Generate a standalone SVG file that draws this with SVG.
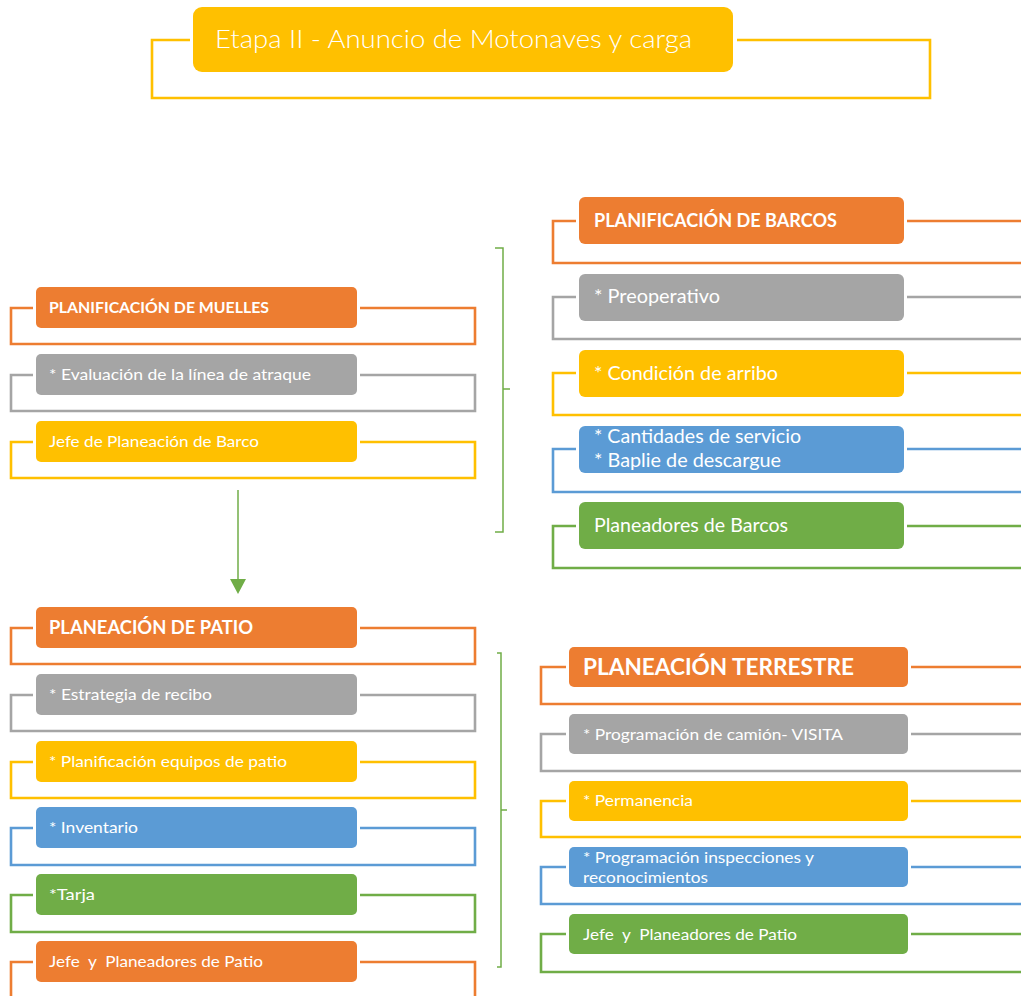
<svg xmlns="http://www.w3.org/2000/svg" width="1021" height="996" viewBox="0 0 1021 996">
<style>
.br{fill:none;stroke-width:2.6}
.o{stroke:#ED7D31}.g{stroke:#A5A5A5}.y{stroke:#FFC000}.b{stroke:#5B9BD5}.gr{stroke:#70AD47}
.fo{fill:#ED7D31}.fg{fill:#A5A5A5}.fy{fill:#FFC000}.fb{fill:#5B9BD5}.fgr{fill:#70AD47}
text{font-family:Lato,"Liberation Sans",sans-serif;fill:#fff;white-space:pre}
.h{font-weight:bold}
.s1{font-size:16px}.s2{font-size:19px}.s3{font-size:15.5px}
.brace{fill:none;stroke:#70AD47;stroke-width:1.5}
</style>
<rect width="1021" height="996" fill="#fff"/>

<g id="title">
<path class="br y" stroke-width="3" d="M190 40H152V98H930V40H737"/>
<rect x="193" y="7" width="540" height="65" rx="9" class="fy"/>
<text x="215" y="48" font-size="25" font-weight="300" textLength="477" lengthAdjust="spacingAndGlyphs">Etapa II - Anuncio de Motonaves y carga</text>
</g>

<!-- Left top block -->
<g id="muelles">
<path class="br o" d="M33 308H11V344H475V308H360"/>
<rect x="36" y="287" width="321" height="41" rx="5" class="fo"/>
<text x="49" y="313" class="h s1" textLength="220" lengthAdjust="spacingAndGlyphs">PLANIFICACIÓN DE MUELLES</text>
</g>
<g id="evaluacion">
<path class="br g" d="M33 375H11V411H475V375H360"/>
<rect x="36" y="354" width="321" height="41" rx="5" class="fg"/>
<text x="49" y="380" class="s1" textLength="262" lengthAdjust="spacingAndGlyphs">* Evaluación de la línea de atraque</text>
</g>
<g id="jefe-barco">
<path class="br y" d="M33 442H11V478H475V442H360"/>
<rect x="36" y="421" width="321" height="41" rx="5" class="fy"/>
<text x="49" y="447" class="s1" textLength="210" lengthAdjust="spacingAndGlyphs">Jefe de Planeación de Barco</text>
</g>

<!-- Right top block -->
<g id="barcos">
<path class="br o" d="M576 221H553V263H1025M1025 221H907"/>
<rect x="579" y="197" width="325" height="47" rx="6" class="fo"/>
<text x="594" y="227" class="h" font-size="18" textLength="243" lengthAdjust="spacingAndGlyphs">PLANIFICACIÓN DE BARCOS</text>
</g>
<g id="preoperativo">
<path class="br g" d="M576 297H553V339H1025M1025 297H907"/>
<rect x="579" y="274" width="325" height="47" rx="6" class="fg"/>
<text x="594" y="303" class="s2" textLength="126" lengthAdjust="spacingAndGlyphs">* Preoperativo</text>
</g>
<g id="arribo">
<path class="br y" d="M576 373H553V415H1025M1025 373H907"/>
<rect x="579" y="350" width="325" height="47" rx="6" class="fy"/>
<text x="594" y="380" class="s2" textLength="184" lengthAdjust="spacingAndGlyphs">* Condición de arribo</text>
</g>
<g id="cantidades">
<path class="br b" d="M576 449H553V492H1025M1025 449H907"/>
<rect x="579" y="426" width="325" height="47" rx="6" class="fb"/>
<text x="594" y="443" class="s2" textLength="207" lengthAdjust="spacingAndGlyphs">* Cantidades de servicio</text>
<text x="594" y="467" class="s2" textLength="187" lengthAdjust="spacingAndGlyphs">* Baplie de descargue</text>
</g>
<g id="planeadores-barcos">
<path class="br gr" d="M576 526H553V568H1025M1025 526H907"/>
<rect x="579" y="502" width="325" height="47" rx="6" class="fgr"/>
<text x="594" y="532" class="s2" textLength="194" lengthAdjust="spacingAndGlyphs">Planeadores de Barcos</text>
</g>

<!-- Bottom left block -->
<g id="patio">
<path class="br o" d="M33 628H11V664H475V628H360"/>
<rect x="36" y="607" width="321" height="41" rx="5" class="fo"/>
<text x="49" y="634" class="h" font-size="18" textLength="204" lengthAdjust="spacingAndGlyphs">PLANEACIÓN DE PATIO</text>
</g>
<g id="estrategia">
<path class="br g" d="M33 695H11V731H475V695H360"/>
<rect x="36" y="674" width="321" height="41" rx="5" class="fg"/>
<text x="49" y="700" class="s1" textLength="163" lengthAdjust="spacingAndGlyphs">* Estrategia de recibo</text>
</g>
<g id="equipos">
<path class="br y" d="M33 762H11V798H475V762H360"/>
<rect x="36" y="741" width="321" height="41" rx="5" class="fy"/>
<text x="49" y="767" class="s1" textLength="238" lengthAdjust="spacingAndGlyphs">* Planificación equipos de patio</text>
</g>
<g id="inventario">
<path class="br b" d="M33 828H11V865H475V828H360"/>
<rect x="36" y="807" width="321" height="41" rx="5" class="fb"/>
<text x="49" y="833" class="s1" textLength="89" lengthAdjust="spacingAndGlyphs">* Inventario</text>
</g>
<g id="tarja">
<path class="br gr" d="M33 895H11V932H475V895H360"/>
<rect x="36" y="874" width="321" height="41" rx="5" class="fgr"/>
<text x="49" y="900" class="s1" textLength="46" lengthAdjust="spacingAndGlyphs">*Tarja</text>
</g>
<g id="jefe-patio">
<path class="br o" d="M33 962H11V1000M475 1000V962H360"/>
<rect x="36" y="941" width="321" height="41" rx="5" class="fo"/>
<text x="49" y="967" class="s1" textLength="214" lengthAdjust="spacingAndGlyphs">Jefe  y  Planeadores de Patio</text>
</g>

<!-- Bottom right block -->
<g id="terrestre">
<path class="br o" d="M566 667H541V704H1025M1025 667H911"/>
<rect x="569" y="647" width="339" height="40" rx="5" class="fo"/>
<text x="583" y="675" class="h" font-size="23" textLength="271" lengthAdjust="spacingAndGlyphs">PLANEACIÓN TERRESTRE</text>
</g>
<g id="camion">
<path class="br g" d="M566 734H541V771H1025M1025 734H911"/>
<rect x="569" y="714" width="339" height="40" rx="5" class="fg"/>
<text x="583" y="740" class="s3" textLength="260" lengthAdjust="spacingAndGlyphs">* Programación de camión- VISITA</text>
</g>
<g id="permanencia">
<path class="br y" d="M566 801H541V837H1025M1025 801H911"/>
<rect x="569" y="781" width="339" height="40" rx="5" class="fy"/>
<text x="583" y="806" class="s3" textLength="110" lengthAdjust="spacingAndGlyphs">* Permanencia</text>
</g>
<g id="inspecciones">
<path class="br b" d="M566 867H541V904H1025M1025 867H911"/>
<rect x="569" y="847" width="339" height="40" rx="5" class="fb"/>
<text x="583" y="863" class="s3" textLength="231" lengthAdjust="spacingAndGlyphs">* Programación inspecciones y</text>
<text x="583" y="883" class="s3" textLength="125" lengthAdjust="spacingAndGlyphs">reconocimientos</text>
</g>
<g id="jefe-patio-2">
<path class="br gr" d="M566 934H541V972H1025M1025 934H911"/>
<rect x="569" y="914" width="339" height="40" rx="5" class="fgr"/>
<text x="583" y="940" class="s3" textLength="214" lengthAdjust="spacingAndGlyphs">Jefe  y  Planeadores de Patio</text>
</g>

<g id="connectors">
<path class="brace" d="M495 248H503V532H495M503 389H510"/>
<path class="brace" d="M497 653H501V967H497M501 810H507"/>
<line x1="238" y1="490" x2="238" y2="582" stroke="#70AD47" stroke-width="1.5"/>
<polygon points="230,579 246,579 238,594" fill="#70AD47"/>
</g>
</svg>
